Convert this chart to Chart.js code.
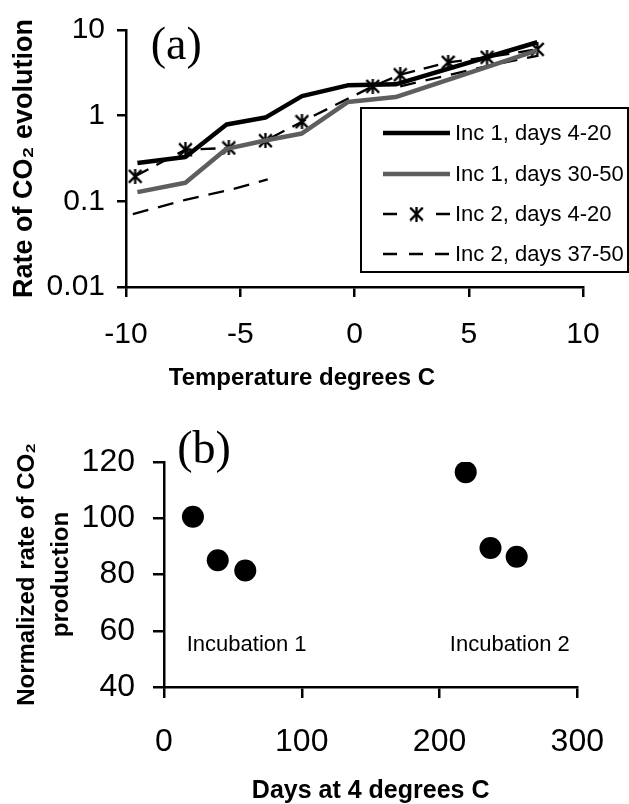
<!DOCTYPE html>
<html>
<head>
<meta charset="utf-8">
<script src="https://cdn.jsdelivr.net/npm/chart.js@4.4.1/dist/chart.umd.min.js"></script>
<style>
html,body{margin:0;padding:0;background:#fff;}
#wrap{position:relative;width:629px;height:804px;overflow:hidden;background:#fff;}
.box{position:absolute;left:0;width:629px;}
#boxA{top:0;height:400px;}
#boxB{top:400px;height:404px;}
canvas{display:block;}
</style>
</head>
<body>
<div id="wrap">
  <div class="box" id="boxA"><canvas id="chartA"></canvas></div>
  <div class="box" id="boxB"><canvas id="chartB"></canvas></div>
</div>
<script>
// ---------- Panel (a) data ----------
const tempTicks = [-10, -5, 0, 5, 10];
const rateTicks = [0.01, 0.1, 1, 10];
const rateTickLabels = ['0.01', '0.1', '1', '10'];
const seriesLabels = ['Inc 1, days 4-20', 'Inc 1, days 30-50', 'Inc 2, days 4-20', 'Inc 2, days 37-50'];
const xTitleA = 'Temperature degrees C';

const inc1EarlyTemp = [-9.5, -7.4, -5.6, -3.9, -2.3, -0.3, 1.8, 8.0];
const inc1EarlyRate = [0.28, 0.33, 0.79, 0.95, 1.69, 2.26, 2.32, 7.2];

const inc1LateTemp = [-9.5, -7.4, -5.6, -3.8, -2.3, -0.3, 1.8, 8.0];
const inc1LateRate = [0.128, 0.165, 0.41, 0.52, 0.62, 1.44, 1.65, 5.8];

const inc2EarlyTemp = [-9.6, -7.4, -5.5, -3.9, -2.3, 0.8, 2.0, 4.1, 5.8, 8.0];
const inc2EarlyRate = [0.196, 0.40, 0.42, 0.51, 0.85, 2.2, 3.0, 4.2, 4.8, 5.95];

const inc2LateTemp = [-9.7, -7.4, -5.5, -3.8, 0, 2.0, 4.1, 5.8, 8.0];
const inc2LateRate = [0.071, 0.104, 0.135, 0.18, null, 2.2, 2.97, 3.8, 5.0];

// ---------- Panel (b) data ----------
const dayTicks = [0, 100, 200, 300];
const normTicks = [40, 60, 80, 100, 120];
const incDays = [21, 39, 59, 219, 237, 256];
const normRate = [100.5, 85.1, 81.4, 116.4, 89.4, 86.3];
const groupLabels = ['Incubation 1', 'Incubation 2'];
const groupLabelDays = [60, 251];
const groupLabelRate = [55, 55];

// ---------- helpers ----------
const SANS = "'Liberation Sans', Arial, Helvetica, sans-serif";
const SERIF = "'Liberation Serif', 'Times New Roman', serif";
const pts = (xs, ys) => xs.map((x, i) => ({x: x, y: ys[i]}));

function makeStar(size, lw) {
  const c = document.createElement('canvas');
  c.width = size; c.height = size;
  const g = c.getContext('2d');
  g.strokeStyle = '#000';
  g.lineWidth = lw;
  const m = lw / 2, s = size - lw / 2;
  g.beginPath();
  g.moveTo(m, m); g.lineTo(s, s);
  g.moveTo(s, m); g.lineTo(m, s);
  g.moveTo(size / 2, 0); g.lineTo(size / 2, size);
  g.stroke();
  return c;
}
const starMarker = makeStar(15, 2.3);

// Boxed legend drawn inside panel (a) from the dataset styles
const boxLegend = {
  id: 'boxLegend',
  afterDraw(chart) {
    const ctx = chart.ctx;
    const L = 361, T = 108, R = 628, B = 272;
    ctx.save();
    ctx.fillStyle = '#fff';
    ctx.fillRect(L, T, R - L, B - T);
    ctx.strokeStyle = '#000';
    ctx.lineWidth = 2;
    ctx.strokeRect(L, T, R - L, B - T);
    const rows = [133, 174, 214, 254];
    const x0 = 383, x1 = 450;
    chart.data.datasets.forEach((ds, i) => {
      const y = rows[i];
      ctx.strokeStyle = ds.borderColor;
      ctx.lineWidth = ds.borderWidth;
      ctx.lineCap = 'butt';
      if (ds.pointStyle === starMarker) {
        ctx.beginPath();
        ctx.moveTo(x0, y); ctx.lineTo(x0 + 14, y);
        ctx.moveTo(x1 - 14, y); ctx.lineTo(x1, y);
        ctx.stroke();
        ctx.drawImage(starMarker, (x0 + x1) / 2 - starMarker.width / 2, y - starMarker.height / 2);
      } else {
        ctx.setLineDash(ds.borderDash && ds.borderDash.length ? [14, 12] : []);
        ctx.beginPath();
        ctx.moveTo(x0, y); ctx.lineTo(x1, y);
        ctx.stroke();
        ctx.setLineDash([]);
      }
      ctx.fillStyle = '#000';
      ctx.font = '22px ' + SANS;
      ctx.textAlign = 'left';
      ctx.textBaseline = 'middle';
      ctx.fillText(ds.label, 455, y + 1);
    });
    ctx.restore();
  }
};

const panelA = {
  id: 'panelA',
  afterDraw(chart) {
    const ctx = chart.ctx, xs = chart.scales.x, ys = chart.scales.y;
    ctx.save();
    ctx.fillStyle = '#000';
    ctx.font = '46px ' + SERIF;
    ctx.textAlign = 'center';
    ctx.textBaseline = 'middle';
    ctx.fillText('(a)', xs.getPixelForValue(-7.8), ys.getPixelForValue(6.3));
    // x-axis title, set left of the axis centre as in the original
    ctx.font = 'bold 24px ' + SANS;
    ctx.fillText(xTitleA, xs.getPixelForValue(-2.3), 378);
    ctx.restore();
  }
};

const panelB = {
  id: 'panelB',
  afterDraw(chart) {
    const ctx = chart.ctx, xs = chart.scales.x, ys = chart.scales.y;
    ctx.save();
    ctx.fillStyle = '#000';
    ctx.textAlign = 'center';
    ctx.textBaseline = 'middle';
    ctx.font = '46px ' + SERIF;
    ctx.fillText('(b)', xs.getPixelForValue(29), ys.getPixelForValue(124.1));
    ctx.font = '22px ' + SANS;
    groupLabels.forEach((t, i) => {
      ctx.fillText(t, xs.getPixelForValue(groupLabelDays[i]), ys.getPixelForValue(groupLabelRate[i]));
    });
    ctx.restore();
  }
};

const axisGrid = {drawOnChartArea: false, drawTicks: true, color: '#000', tickColor: '#000', lineWidth: 2.5, tickWidth: 2.5};
const axisBorder = {display: true, color: '#000', width: 2.5};

// ---------- Chart (a) ----------
new Chart(document.getElementById('chartA'), {
  type: 'scatter',
  data: {
    datasets: [
      {label: seriesLabels[0], data: pts(inc1EarlyTemp, inc1EarlyRate), showLine: true,
       borderColor: '#000', backgroundColor: '#000', borderWidth: 4.5, pointRadius: 0, borderJoinStyle: 'round'},
      {label: seriesLabels[1], data: pts(inc1LateTemp, inc1LateRate), showLine: true,
       borderColor: '#5e5e5e', backgroundColor: '#5e5e5e', borderWidth: 4.5, pointRadius: 0, borderJoinStyle: 'round'},
      {label: seriesLabels[2], data: pts(inc2EarlyTemp, inc2EarlyRate), showLine: true,
       borderColor: '#000', backgroundColor: '#000', borderWidth: 2.3, borderDash: [15, 9],
       pointStyle: starMarker, pointRadius: 7},
      {label: seriesLabels[3], data: pts(inc2LateTemp, inc2LateRate), showLine: true, spanGaps: false,
       borderColor: '#000', backgroundColor: '#000', borderWidth: 2.3, borderDash: [16, 10], pointRadius: 0}
    ]
  },
  options: {
    responsive: true, maintainAspectRatio: false, animation: false,
    layout: {autoPadding: false, padding: {left: 0, top: 24, right: 46, bottom: 0}},
    plugins: {legend: {display: false}, tooltip: {enabled: false}},
    scales: {
      x: {
        type: 'linear', min: -10, max: 10,
        afterBuildTicks: s => { s.ticks = tempTicks.map(v => ({value: v})); },
        afterFit: s => { s.height = 113; },
        grid: Object.assign({tickLength: 10}, axisGrid),
        border: axisBorder,
        ticks: {color: '#000', font: {family: SANS, size: 30}, padding: 20, maxRotation: 0, autoSkip: false},
        title: {display: false, text: xTitleA}
      },
      y: {
        type: 'logarithmic', min: 0.01, max: 10,
        afterBuildTicks: s => { s.ticks = rateTicks.map(v => ({value: v})); },
        afterFit: s => { s.width = 126; },
        grid: Object.assign({tickLength: 9}, axisGrid),
        border: axisBorder,
        ticks: {color: '#000', font: {family: SANS, size: 30}, padding: 12, autoSkip: false,
                callback: v => { const i = rateTicks.indexOf(v); return i >= 0 ? rateTickLabels[i] : ''; }},
        title: {display: true, text: 'Rate of CO\u2082 evolution', color: '#000',
                font: {family: SANS, size: 27, weight: 'bold', lineHeight: 1}, padding: {top: 11, bottom: 0}}
      }
    }
  },
  plugins: [boxLegend, panelA]
});

// ---------- Chart (b) ----------
new Chart(document.getElementById('chartB'), {
  type: 'scatter',
  data: {
    datasets: [
      {label: 'Normalized rate', data: pts(incDays, normRate),
       pointRadius: 11, pointBackgroundColor: '#000', pointBorderWidth: 0, borderColor: '#000', backgroundColor: '#000'}
    ]
  },
  options: {
    responsive: true, maintainAspectRatio: false, animation: false,
    layout: {autoPadding: false, padding: {left: 0, top: 62, right: 43, bottom: 0}},
    plugins: {legend: {display: false}, tooltip: {enabled: false}},
    scales: {
      x: {
        type: 'linear', min: 0, max: 300,
        afterBuildTicks: s => { s.ticks = dayTicks.map(v => ({value: v})); },
        afterFit: s => { s.height = 117; },
        grid: Object.assign({tickLength: 11}, axisGrid),
        border: axisBorder,
        ticks: {color: '#000', font: {family: SANS, size: 32}, padding: 25, maxRotation: 0, autoSkip: false},
        title: {display: true, text: 'Days at 4 degrees C', color: '#000',
                font: {family: SANS, size: 25, weight: 'bold', lineHeight: 1}, padding: {top: 0, bottom: 0}}
      },
      y: {
        type: 'linear', min: 40, max: 120,
        afterBuildTicks: s => { s.ticks = normTicks.map(v => ({value: v})); },
        afterFit: s => { s.width = 164; },
        grid: Object.assign({tickLength: 11}, axisGrid),
        border: axisBorder,
        ticks: {color: '#000', font: {family: SANS, size: 32}, padding: 18, autoSkip: false},
        title: {display: true, text: ['Normalized rate of CO\u2082', 'production'], color: '#000',
                font: {family: SANS, size: 24, weight: 'bold', lineHeight: 1.4}, padding: {top: 11, bottom: 0}}
      }
    }
  },
  plugins: [panelB]
});
</script>
</body>
</html>
